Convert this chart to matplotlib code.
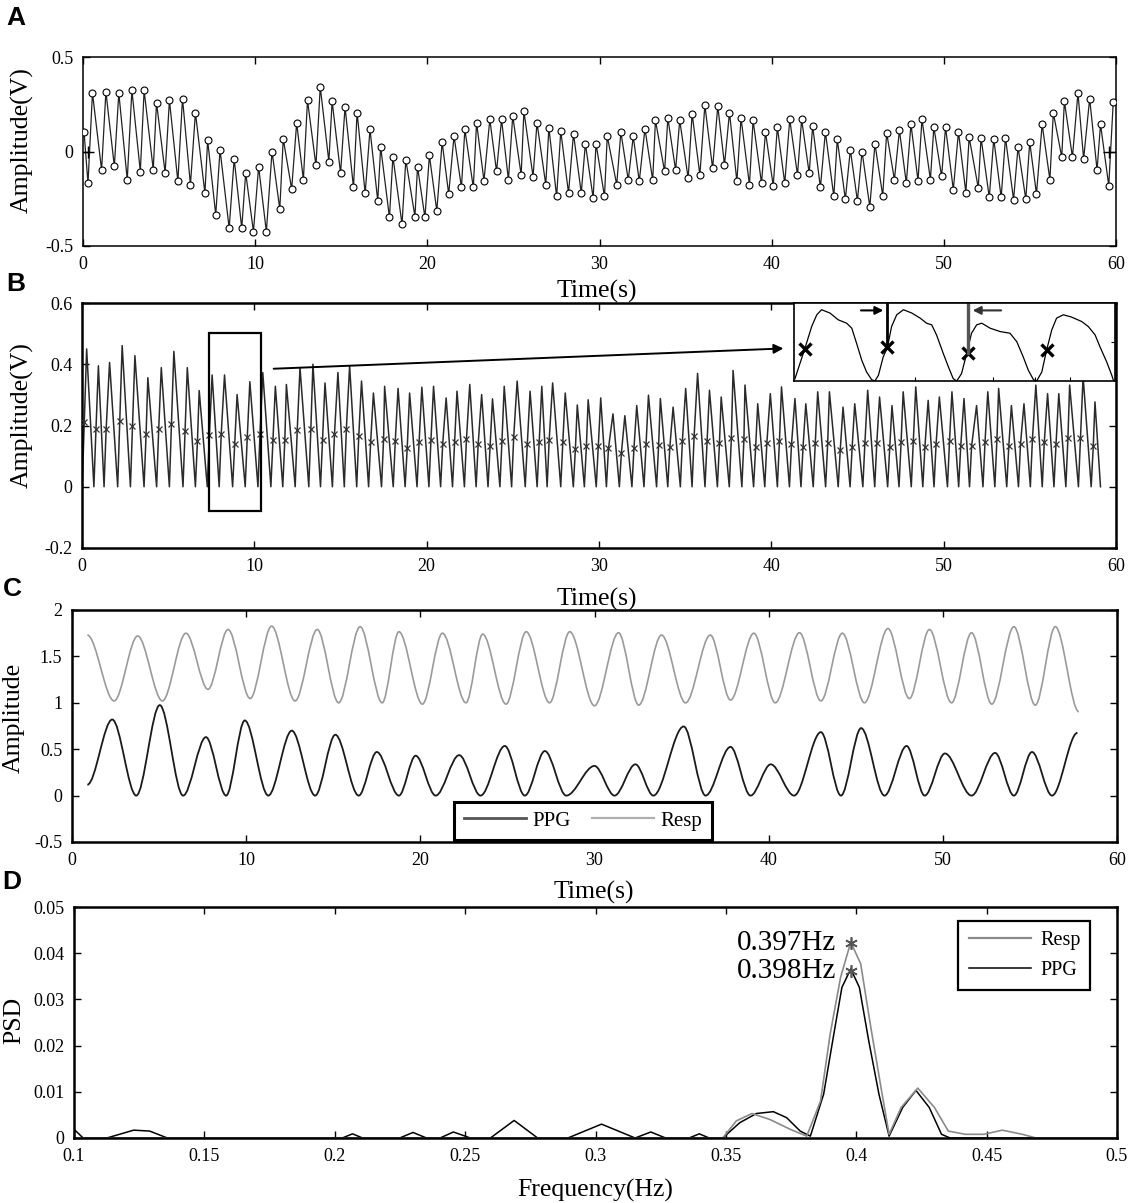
import numpy as np
import matplotlib
matplotlib.use('Agg')
import matplotlib.pyplot as plt
from matplotlib.patches import Rectangle, PathPatch
from matplotlib.path import Path
from matplotlib.lines import Line2D
from matplotlib.ticker import FormatStrFormatter

plt.rcParams['font.family'] = ['Liberation Serif', 'DejaVu Serif']
plt.rcParams['axes.unicode_minus'] = False

# ---------------- panel A: raw PPG with detected peaks / valleys ----------------
a_start = (0.06, 0.103)
a_trough_t = [0.29, 1.08, 1.82, 2.57, 3.33, 4.08, 4.77, 5.51, 6.24, 7.08, 7.71, 8.49, 9.22, 9.90,
              10.65, 11.43, 12.12, 12.80, 13.53, 14.28, 14.96, 15.71, 16.39, 17.12, 17.80, 18.53,
              19.28, 19.86, 20.55, 21.24, 21.98, 22.67, 23.29, 24.02, 24.71, 25.45, 26.14, 26.88,
              27.51, 28.20, 28.94, 29.63, 30.29,
              31.00, 31.67, 32.31, 33.09, 33.78, 34.42, 35.15, 35.83, 36.57, 37.26, 37.98, 38.71,
              39.41, 40.09, 40.76, 41.50, 42.18, 42.83, 43.61, 44.28, 44.98, 45.70, 46.45, 47.13,
              47.82, 48.50, 49.22, 49.87, 50.55, 51.28, 52.00, 52.64, 53.33, 54.05, 54.76, 55.38,
              56.16, 56.85, 57.47, 58.12, 58.90, 59.58]
a_trough_v = [-0.168, -0.098, -0.078, -0.149, -0.106, -0.096, -0.113, -0.158, -0.176, -0.22,
              -0.335, -0.406, -0.406, -0.424, -0.424, -0.305, -0.199, -0.149, -0.074, -0.053,
              -0.115, -0.19, -0.222, -0.261, -0.349, -0.385, -0.344, -0.349, -0.314, -0.225,
              -0.19, -0.19, -0.154, -0.105, -0.149, -0.124, -0.133, -0.176, -0.238, -0.22,
              -0.22, -0.246, -0.238,
              -0.176, -0.151, -0.158, -0.151, -0.105, -0.098, -0.142, -0.124, -0.089, -0.071,
              -0.158, -0.176, -0.168, -0.181, -0.168, -0.124, -0.115, -0.19, -0.238, -0.252,
              -0.261, -0.293, -0.234, -0.149, -0.167, -0.154, -0.149, -0.131, -0.202, -0.217,
              -0.193, -0.243, -0.243, -0.255, -0.252, -0.225, -0.149, -0.03, -0.03, -0.039,
              -0.098, -0.181]
a_peak_t = [0.55, 1.33, 2.08, 2.84, 3.55, 4.27, 5.02, 5.78, 6.53, 7.24, 7.96, 8.78, 9.45, 10.20,
            10.98, 11.63, 12.41, 13.04, 13.78, 14.47, 15.22, 15.92, 16.67, 17.29, 18.00, 18.75,
            19.43, 20.12, 20.86, 21.55, 22.18, 22.86, 23.63, 24.31, 24.96, 25.61, 26.37, 27.06,
            27.75, 28.49, 29.18, 29.80, 30.45,
            31.24, 31.96, 32.64, 33.25, 33.97, 34.66, 35.38, 36.12, 36.87, 37.55, 38.22, 38.92,
            39.64, 40.33, 41.05, 41.74, 42.38, 43.12, 43.81, 44.57, 45.25, 46.00, 46.68, 47.42,
            48.09, 48.73, 49.42, 50.10, 50.85, 51.47, 52.16, 52.90, 53.58, 54.31, 54.99, 55.71,
            56.36, 57.00, 57.79, 58.47, 59.10, 59.84]
a_peak_v = [0.31, 0.316, 0.31, 0.324, 0.324, 0.259, 0.271, 0.28, 0.206, 0.059, 0.009, -0.039,
            -0.113, -0.08, 0.0, 0.067, 0.151, 0.271, 0.342, 0.266, 0.236, 0.206, 0.117, 0.023,
            -0.027, -0.044, -0.08, -0.021, 0.05, 0.082, 0.117, 0.152, 0.17, 0.17, 0.188, 0.213,
            0.152, 0.126, 0.108, 0.094, 0.041, 0.041, 0.082,
            0.103, 0.08, 0.121, 0.165, 0.177, 0.165, 0.2, 0.245, 0.241, 0.206, 0.177, 0.165,
            0.103, 0.129, 0.17, 0.17, 0.135, 0.103, 0.064, 0.009, 0.0, 0.041, 0.098, 0.112,
            0.144, 0.17, 0.129, 0.129, 0.103, 0.076, 0.073, 0.067, 0.073, 0.023, 0.05, 0.144,
            0.204, 0.266, 0.31, 0.28, 0.144, 0.262]
a_cross_t = [0.3, 59.6]
a_cross_v = [0.0, 0.0]

# ---------------- panel B: PPG with onset marks ----------------
b_trough_t = [0.01, 0.69, 1.28, 2.07, 2.81, 3.60, 4.33, 5.07, 5.86, 6.58, 7.27, 7.96, 8.74, 9.47,
              10.21, 10.96, 11.65, 12.37, 13.16, 13.84, 14.53, 15.22, 15.94, 16.63, 17.38, 18.06,
              18.75, 19.44, 20.13, 20.81, 21.50, 22.19, 22.87, 23.56, 24.25, 24.93, 25.72, 26.41,
              26.99, 27.78, 28.51, 29.15, 29.84, 30.43,
              31.18, 31.91, 32.61, 33.34, 33.99, 34.72, 35.40, 36.15, 36.87, 37.56, 38.29, 38.97,
              39.62, 40.35, 41.05, 41.72, 42.43, 43.15, 43.88, 44.57, 45.31, 46.00, 46.75, 47.41,
              48.12, 48.79, 49.44, 50.22, 50.87, 51.50, 52.28, 52.97, 53.66, 54.34, 55.03, 55.72,
              56.40, 57.09, 57.82, 58.56]
b_mark_t = [0.13, 0.81, 1.40, 2.19, 2.93, 3.72, 4.45, 5.19, 5.98, 6.70, 7.39, 8.08, 8.86, 9.59,
            10.33, 11.08, 11.77, 12.49, 13.28, 13.96, 14.65, 15.34, 16.06, 16.75, 17.50, 18.18,
            18.87, 19.56, 20.25, 20.93, 21.62, 22.31, 22.99, 23.68, 24.37, 25.05, 25.84, 26.53,
            27.11, 27.90, 28.63, 29.27, 29.96, 30.55,
            31.30, 32.03, 32.73, 33.46, 34.11, 34.84, 35.52, 36.27, 36.99, 37.68, 38.41, 39.09,
            39.74, 40.47, 41.17, 41.84, 42.55, 43.27, 44.00, 44.69, 45.43, 46.12, 46.87, 47.53,
            48.24, 48.91, 49.56, 50.34, 50.99, 51.62, 52.40, 53.09, 53.78, 54.46, 55.15, 55.84,
            56.52, 57.21, 57.94, 58.68]
b_mark_v = [0.212, 0.187, 0.187, 0.214, 0.199, 0.173, 0.187, 0.206, 0.181, 0.151, 0.168, 0.173,
            0.14, 0.162, 0.173, 0.154, 0.154, 0.186, 0.19, 0.154, 0.171, 0.19, 0.165, 0.145,
            0.156, 0.151, 0.125, 0.145, 0.154, 0.14, 0.145, 0.156, 0.14, 0.132, 0.151, 0.162,
            0.14, 0.145, 0.154, 0.145, 0.123, 0.134, 0.132, 0.125,
            0.11, 0.127, 0.138, 0.136, 0.129, 0.151, 0.166, 0.149, 0.143, 0.158, 0.155, 0.129,
            0.143, 0.149, 0.138, 0.129, 0.143, 0.143, 0.121, 0.129, 0.143, 0.143, 0.129, 0.146,
            0.151, 0.129, 0.14, 0.149, 0.132, 0.132, 0.146, 0.155, 0.132, 0.14, 0.155, 0.147,
            0.14, 0.158, 0.158, 0.132]
b_peak_t = [0.27, 0.95, 1.60, 2.33, 3.07, 3.82, 4.60, 5.33, 6.11, 6.80, 7.55, 8.27, 9.00, 9.74,
            10.49, 11.22, 11.86, 12.65, 13.40, 14.10, 14.85, 15.53, 16.22, 16.91, 17.56, 18.34,
            19.01, 19.72, 20.40, 21.13, 21.76, 22.50, 23.19, 23.82, 24.50, 25.25, 26.00, 26.68,
            27.31, 28.04, 28.74, 29.37, 30.10, 30.81,
            31.50, 32.19, 32.87, 33.56, 34.30, 35.03, 35.72, 36.41, 37.09, 37.78, 38.47, 39.21,
            39.94, 40.59, 41.37, 42.00, 42.69, 43.37, 44.16, 44.84, 45.59, 46.28, 47.00, 47.65,
            48.38, 49.10, 49.75, 50.48, 51.18, 51.91, 52.56, 53.19, 53.93, 54.66, 55.35, 56.03,
            56.68, 57.31, 58.09, 58.78]
b_peak_v = [0.45, 0.395, 0.406, 0.461, 0.428, 0.356, 0.389, 0.442, 0.389, 0.314, 0.365, 0.365,
            0.301, 0.343, 0.373, 0.328, 0.334, 0.389, 0.40, 0.339, 0.373, 0.395, 0.345, 0.306,
            0.328, 0.321, 0.306, 0.325, 0.328, 0.29, 0.312, 0.334, 0.301, 0.287, 0.328, 0.345,
            0.312, 0.328, 0.339, 0.306, 0.267, 0.284, 0.29, 0.238,
            0.232, 0.265, 0.299, 0.288, 0.26, 0.321, 0.37, 0.315, 0.293, 0.38, 0.332, 0.271,
            0.304, 0.326, 0.288, 0.271, 0.31, 0.31, 0.26, 0.271, 0.315, 0.293, 0.265, 0.31,
            0.326, 0.282, 0.293, 0.31, 0.288, 0.265, 0.31, 0.321, 0.265, 0.271, 0.332, 0.304,
            0.304, 0.332, 0.36, 0.277]
b_end = (59.1, 0.0)

# zoom window and inset (inset in its own normalised units)
b_window = (7.36, -0.078, 10.38, 0.503)
b_arrow = ((10.96, 0.385), (40.86, 0.452))
inset_u = [0.003, 0.034, 0.055, 0.071, 0.086, 0.112, 0.138, 0.164, 0.180, 0.195, 0.211, 0.226,
           0.242, 0.252, 0.263, 0.278, 0.291, 0.304, 0.320, 0.341, 0.367, 0.393, 0.413, 0.429,
           0.444, 0.465, 0.481, 0.496, 0.507, 0.522, 0.538, 0.553, 0.569, 0.585, 0.611, 0.642,
           0.673, 0.694, 0.714, 0.730, 0.746, 0.756, 0.772, 0.787, 0.803, 0.818, 0.839, 0.865,
           0.896, 0.917, 0.938, 0.953, 0.974, 0.990, 0.995]
inset_w = [0.03, 0.418, 0.698, 0.849, 0.914, 0.871, 0.784, 0.741, 0.677, 0.483, 0.267, 0.116,
           0.017, 0.0, 0.073, 0.310, 0.431, 0.698, 0.849, 0.914, 0.871, 0.806, 0.741, 0.72,
           0.591, 0.353, 0.181, 0.03, 0.0, 0.095, 0.353, 0.612, 0.720, 0.741, 0.677, 0.634,
           0.612, 0.504, 0.310, 0.138, 0.017, 0.0, 0.116, 0.397, 0.655, 0.806, 0.849, 0.819,
           0.763, 0.698, 0.591, 0.440, 0.246, 0.073, 0.009]
inset_mark_u = [0.034, 0.291, 0.543, 0.787]
inset_mark_w = [0.405, 0.431, 0.353, 0.397]

# ---------------- panel C: extracted PPG / respiration waveforms ----------------
c_resp_t = [0.88, 2.42, 3.77, 5.19, 6.54, 7.81, 8.96, 10.23, 11.46, 12.81, 14.08, 15.31, 16.54,
            17.81, 18.77, 20.12, 21.27, 22.62, 23.58, 24.92, 26.08, 27.42, 28.58, 30.0, 31.38,
            32.54, 33.85, 35.23, 36.65, 37.81, 39.15, 40.38, 41.77, 43.0, 44.23, 45.5, 46.85,
            48.08, 49.23, 50.5, 51.65, 52.81, 54.08, 55.31, 56.46, 57.81]
c_resp_v = [1.73, 1.02, 1.72, 1.02, 1.75, 1.145, 1.79, 1.046, 1.826, 1.02, 1.79, 1.0, 1.82, 1.0,
            1.766, 0.986, 1.75, 1.0, 1.74, 0.986, 1.766, 1.0, 1.766, 0.968, 1.755, 0.975, 1.73,
            1.0, 1.73, 1.03, 1.75, 1.0, 1.755, 1.02, 1.75, 1.0, 1.8, 1.046, 1.79, 1.0, 1.755,
            0.986, 1.82, 0.975, 1.82, 0.904]
c_ppg_t = [0.88, 2.31, 3.69, 5.04, 6.38, 7.69, 8.85, 9.92, 11.27, 12.62, 13.96, 15.12, 16.46,
           17.5, 18.77, 19.73, 20.88, 22.23, 23.46, 24.85, 26.0, 27.15, 28.38, 30.0, 31.15, 32.35,
           33.38, 35.12, 36.38, 37.81, 38.96, 40.12, 41.46, 43.0, 44.15, 45.31, 46.65, 47.92,
           48.96, 50.12, 51.65, 53.0, 54.08, 55.12, 56.27, 57.73]
c_ppg_v = [0.117, 0.82, 0.0, 0.975, 0.0, 0.63, 0.0, 0.81, 0.0, 0.70, 0.0, 0.656, 0.0, 0.47, 0.0,
           0.43, 0.0, 0.436, 0.0, 0.535, 0.0, 0.48, 0.0, 0.32, 0.0, 0.337, 0.0, 0.745, 0.0, 0.525,
           0.0, 0.337, 0.0, 0.684, 0.0, 0.727, 0.0, 0.535, 0.0, 0.454, 0.0, 0.46, 0.0, 0.47, 0.0,
           0.677]

# ---------------- panel D: power spectral density ----------------
d_resp_f = [0.1, 0.3488, 0.354, 0.36, 0.3669, 0.3746, 0.381, 0.3863, 0.390, 0.394, 0.3979,
            0.4017, 0.4056, 0.4095, 0.4126, 0.4172, 0.4236, 0.43, 0.4353, 0.4418, 0.449, 0.456,
            0.4637, 0.469, 0.5]
d_resp_p = [0, 0, 0.0037, 0.0053, 0.004, 0.0019, 0.0004, 0.008, 0.0225, 0.0348, 0.0424, 0.0377,
            0.0239, 0.0109, 0.0008, 0.0066, 0.0108, 0.0066, 0.0015, 0.0008, 0.0008, 0.0017,
            0.0008, 0, 0]
d_ppg_f = [0.1, 0.1035, 0.1126, 0.1229, 0.129, 0.1358, 0.2029, 0.2068, 0.2107, 0.2249, 0.23,
           0.2352, 0.2404, 0.2455, 0.252, 0.2597, 0.2688, 0.2778, 0.2894, 0.3023, 0.3152, 0.3212,
           0.3269, 0.3359, 0.3398, 0.3436, 0.3488, 0.3553, 0.3617, 0.3682, 0.3733, 0.3785,
           0.3824, 0.3875, 0.3914, 0.3945, 0.3979, 0.4012, 0.4048, 0.4087, 0.4126, 0.4178,
           0.4229, 0.428, 0.4327, 0.436, 0.5]
d_ppg_p = [0.0019, 0, 0, 0.0017, 0.0015, 0, 0, 0.0009, 0, 0, 0.0012, 0, 0, 0.0013, 0, 0, 0.0038,
           0, 0, 0.003, 0, 0.0013, 0, 0, 0.0009, 0, 0, 0.0033, 0.0053, 0.0057, 0.0044, 0.0015,
           0.0004, 0.0095, 0.0225, 0.0326, 0.0366, 0.0326, 0.021, 0.0095, 0.0004, 0.0066,
           0.0103, 0.0066, 0.0008, 0, 0]
d_star_f = [0.398, 0.398]
d_star_p = [0.0421, 0.0362]
d_star_text = ['0.397Hz', '0.398Hz']

W, H = 1128, 1203
GRAY = '#8a8a8a'


def px_box(left, top, right, bottom):
    """Axes rectangle given in pixels of the reference image."""
    return [left / W, 1 - bottom / H, (right - left) / W, (bottom - top) / H]


def style_axes(ax, lw=1.6):
    ax.tick_params(direction='in', top=True, right=True, length=5, width=1,
                   labelsize=13, pad=7, colors='black')
    for s in ax.spines.values():
        s.set_linewidth(lw)
    ax.yaxis.set_major_formatter(FormatStrFormatter('%g'))
    ax.xaxis.set_major_formatter(FormatStrFormatter('%g'))


def smooth_curve(ax, t, v, **kw):
    """Draw a curve through extrema with flat tangents (cubic bezier segments)."""
    verts = [(t[0], v[0])]
    codes = [Path.MOVETO]
    for i in range(1, len(t)):
        d = (t[i] - t[i - 1]) / 3.0
        verts += [(t[i - 1] + d, v[i - 1]), (t[i] - d, v[i]), (t[i], v[i])]
        codes += [Path.CURVE4] * 3
    ax.add_patch(PathPatch(Path(verts, codes), fill=False, **kw))


def interleave(*arrays):
    return np.column_stack(arrays).ravel()


fig = plt.figure(figsize=(W / 100, H / 100), dpi=100)

# ---- A ----
axA = fig.add_axes(px_box(83, 57, 1116, 246))
ta = np.concatenate([[a_start[0]], interleave(a_trough_t, a_peak_t)])
va = np.concatenate([[a_start[1]], interleave(a_trough_v, a_peak_v)])
axA.plot(ta, va, color='#222222', lw=0.9, zorder=2)
axA.plot(ta, va, 'o', ms=5, mfc='white', mec='black', mew=0.8, zorder=3)
axA.plot(a_cross_t, a_cross_v, '+', ms=9, color='black', mew=1)
axA.set_xlim(0, 60)
axA.set_ylim(-0.5, 0.5)
axA.set_xticks(range(0, 61, 10))
axA.set_yticks([-0.5, 0, 0.5])
style_axes(axA, lw=1.1)

# ---- B ----
axB = fig.add_axes(px_box(82, 303, 1116, 548))
tb = np.concatenate([interleave(b_trough_t, b_mark_t, b_peak_t), [b_end[0]]])
vb = np.concatenate([interleave(np.zeros(len(b_trough_t)), b_mark_v, b_peak_v), [b_end[1]]])
axB.plot(tb, vb, color='#2a2a2a', lw=1.1, zorder=2)
axB.plot(b_mark_t, b_mark_v, 'x', ms=4.5, color='#333333', mew=0.9, zorder=3)
x0, y0, x1, y1 = b_window
axB.add_patch(Rectangle((x0, y0), x1 - x0, y1 - y0, fill=False, ec='black', lw=1.6, zorder=4))
axB.annotate('', xy=b_arrow[1], xytext=b_arrow[0],
             arrowprops=dict(arrowstyle='-|>', color='black', lw=1.4, mutation_scale=14),
             zorder=5)
axB.set_xlim(0, 60)
axB.set_ylim(-0.2, 0.6)
axB.set_xticks(range(0, 61, 10))
axB.set_yticks([-0.2, 0, 0.2, 0.4, 0.6])
style_axes(axB, lw=1.8)

# inset with four beats
axI = fig.add_axes(px_box(794, 303, 1115, 381))
axI.set_facecolor('white')
axI.plot(inset_u, inset_w, color='black', lw=0.9)
axI.plot(inset_mark_u, inset_mark_w, 'x', ms=9, mew=2.4, color='black')
axI.plot([inset_mark_u[1], inset_mark_u[1]], [1.0, inset_mark_w[1]], color='black', lw=2)
axI.plot([inset_mark_u[2], inset_mark_u[2]], [1.0, inset_mark_w[2]], color='#555555', lw=2.4)
axI.annotate('', xy=(0.287, 0.905), xytext=(0.20, 0.905),
             arrowprops=dict(arrowstyle='-|>', color='black', lw=1.5, mutation_scale=12))
axI.annotate('', xy=(0.548, 0.905), xytext=(0.654, 0.905),
             arrowprops=dict(arrowstyle='-|>', color='#333333', lw=1.5, mutation_scale=12))
axI.set_xlim(0, 1)
axI.set_ylim(0, 1)
axI.set_xticks([0.377, 0.621, 0.75, 0.86])
axI.set_yticks([0.5])
axI.tick_params(direction='in', length=3, labelbottom=False, labelleft=False, right=True,
                left=False)
for s in axI.spines.values():
    s.set_linewidth(1.2)

# ---- C ----
axC = fig.add_axes(px_box(72, 610, 1117, 842))
smooth_curve(axC, c_ppg_t, c_ppg_v, ec='#1a1a1a', lw=1.3)
smooth_curve(axC, c_resp_t, c_resp_v, ec='#9a9a9a', lw=1.2)
axC.set_xlim(0, 60)
axC.set_ylim(-0.5, 2)
axC.set_xticks(range(0, 61, 10))
axC.set_yticks([-0.5, 0, 0.5, 1, 1.5, 2])
style_axes(axC, lw=1.8)
handles = [Line2D([], [], color='#555555', lw=2), Line2D([], [], color='#b0b0b0', lw=1.6)]
legC = axC.legend(handles, ['PPG', 'Resp'], ncol=2, loc='lower left',
                  bbox_to_anchor=(0.366, 0.009), borderaxespad=0, fancybox=False,
                  framealpha=1, edgecolor='black', fontsize=15, handlelength=3.0,
                  handletextpad=0.3, columnspacing=1.0, borderpad=0.45)
legC.get_frame().set_linewidth(2.2)

# ---- D ----
axD = fig.add_axes(px_box(74, 907, 1117, 1138))
axD.plot(d_ppg_f, d_ppg_p, color='black', lw=1.1)
axD.plot(d_resp_f, d_resp_p, color=GRAY, lw=1.2)
axD.plot(d_star_f, d_star_p, ls='none', marker=(6, 2, 0), ms=9, mew=1.2, color='#555555')
for f, p, s in zip(d_star_f, d_star_p, d_star_text):
    axD.text(f - 0.0058, p, s, ha='right', va='center', fontsize=21)
axD.set_xlim(0.1, 0.5)
axD.set_ylim(0, 0.05)
axD.set_xticks(np.arange(0.1, 0.501, 0.05))
axD.set_yticks([0, 0.01, 0.02, 0.03, 0.04, 0.05])
style_axes(axD, lw=1.8)
handles = [Line2D([], [], color=GRAY, lw=1.6), Line2D([], [], color='black', lw=1.1)]
legD = axD.legend(handles, ['Resp', 'PPG'], loc='upper left', bbox_to_anchor=(0.848, 0.94),
                  borderaxespad=0, fancybox=False, framealpha=1, edgecolor='black',
                  fontsize=14.5, handlelength=3.1, handletextpad=0.45, borderpad=0.5,
                  labelspacing=0.55)
legD.get_frame().set_linewidth(1.6)

# ---- axis titles and panel letters (placed in figure pixels) ----
def ftext(x, y, s, **kw):
    fig.text(x / W, 1 - y / H, s, **kw)

lab = dict(fontsize=18.5, ha='center', va='center')
ftext(22, 140, 'Amplitude(V)', rotation=90, **lab)
ftext(22, 415, 'Amplitude(V)', rotation=90, **lab)
ftext(14, 718, 'Amplitude', rotation=90, **lab)
ftext(14, 1020, 'PSD', rotation=90, **lab)
ftext(597, 291, 'Time(s)', **lab)
ftext(597, 599, 'Time(s)', **lab)
ftext(594, 892, 'Time(s)', **lab)
ftext(595, 1190, 'Frequency(Hz)', **lab)

letter = dict(fontsize=19, fontweight='bold', family='Liberation Sans', ha='left', va='top')
ftext(6, 6, 'A', **letter)
ftext(6, 272, 'B', **letter)
ftext(3, 577, 'C', **letter)
ftext(2, 870, 'D', **letter)

fig.savefig('out.png', dpi=100)
